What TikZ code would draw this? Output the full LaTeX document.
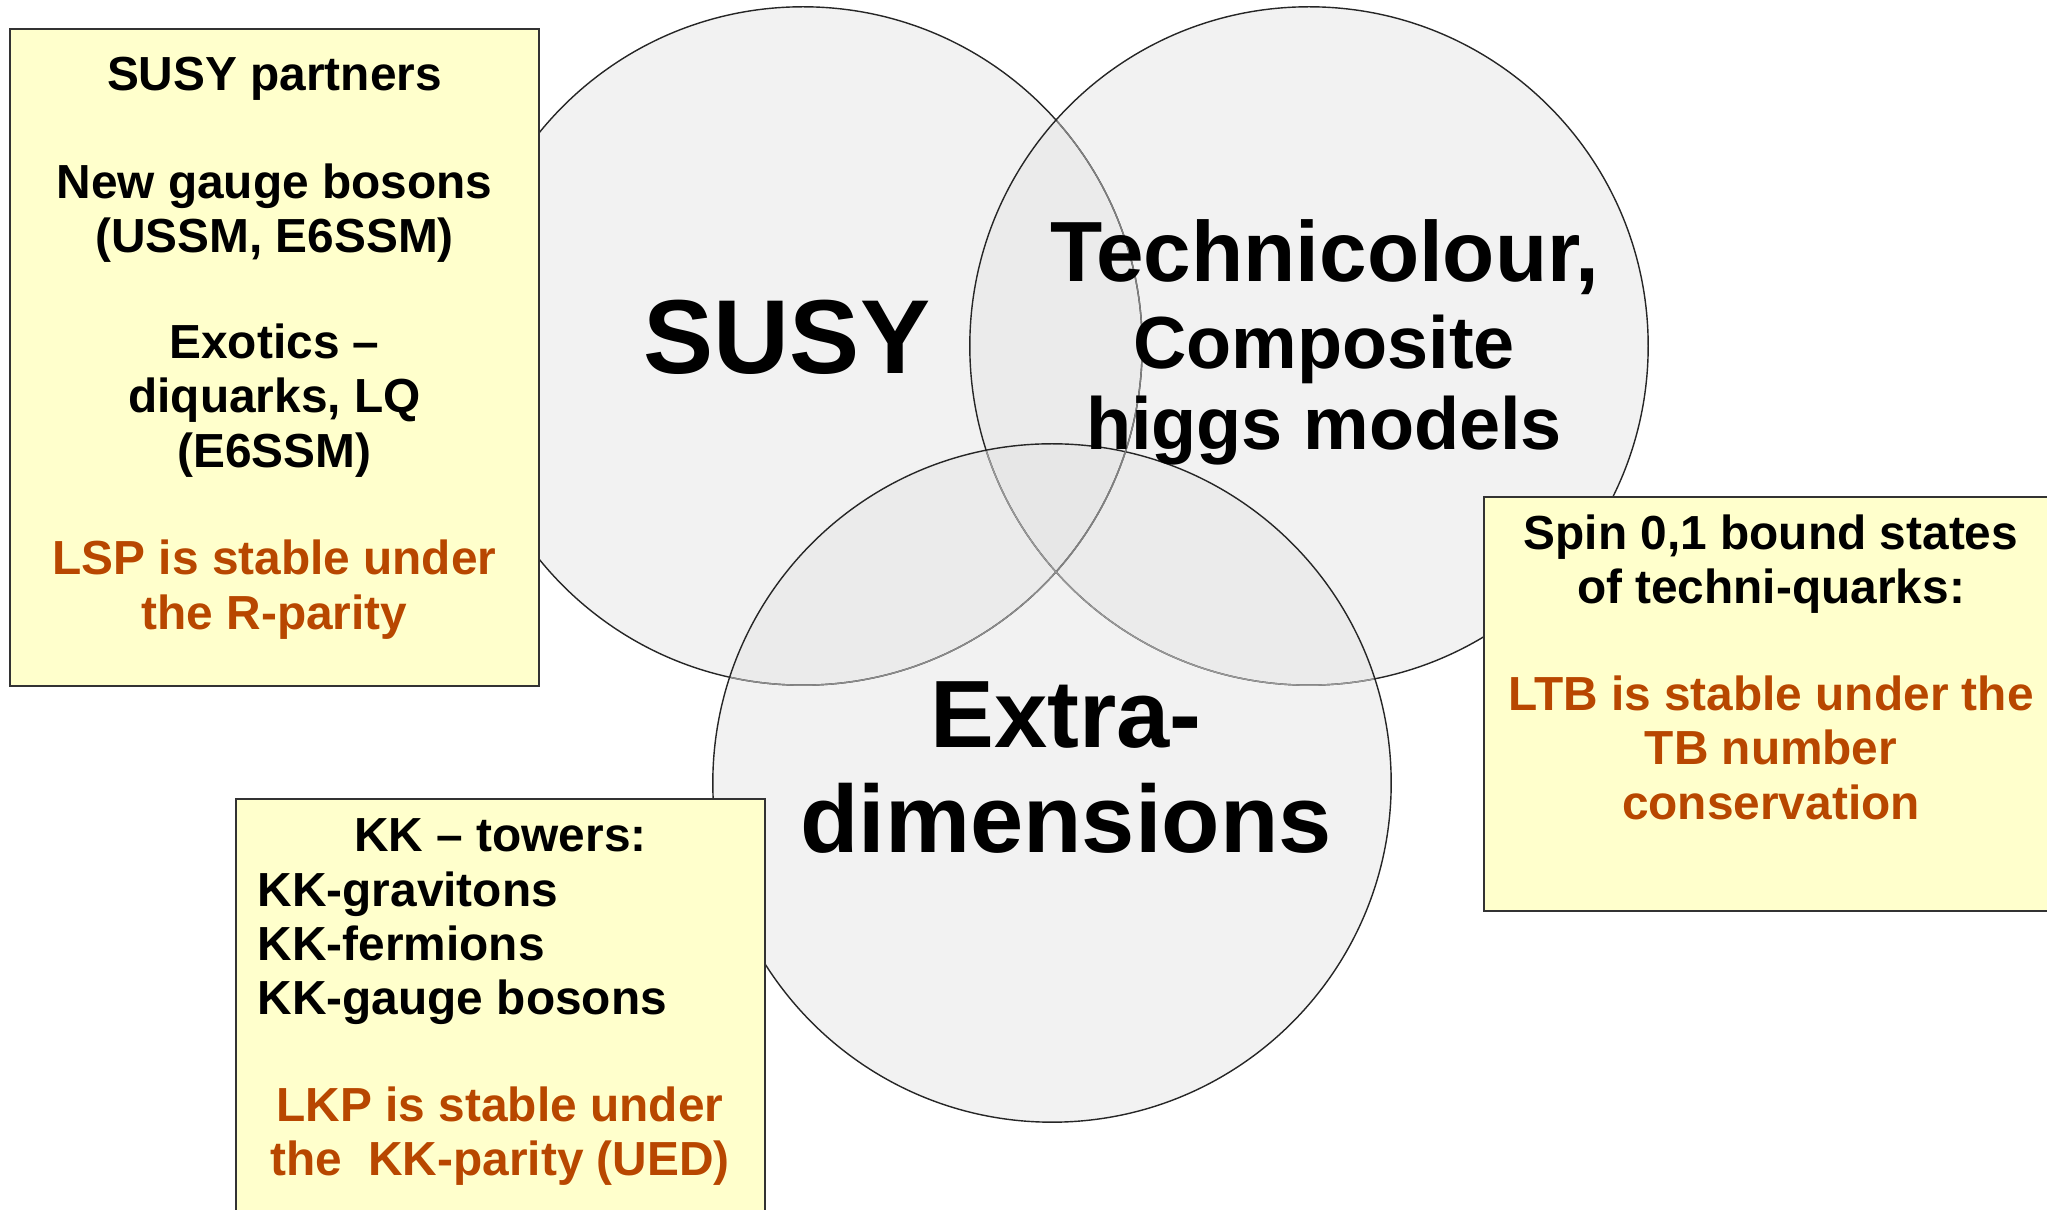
\documentclass[tikz,border=0pt]{standalone}
\usepackage{fontspec}
\setmainfont{Liberation Sans}
\usetikzlibrary{positioning, fit}
\definecolor{noteFill}{HTML}{FFFFCC}
\definecolor{stableText}{HTML}{B84700}
\definecolor{oneFill}{HTML}{F2F2F2}
\definecolor{twoFill}{HTML}{EBEBEB}
\definecolor{threeFill}{HTML}{E7E7E7}

\begin{document}
\begin{tikzpicture}[
    x=0.01cm, y=-0.01cm,
    theory/.style={
      circle, draw=black!85, line width=0.4pt, fill=oneFill,
      minimum size=6.78cm, inner sep=0pt
    },
    infobox/.style={rectangle, draw=black!80, line width=0.4pt, fill=noteFill, inner sep=0pt},
    boxtext/.style={font=\fontsize{13.6}{15.4}\selectfont\bfseries, align=center, inner sep=0pt, anchor=north},
    biglabel/.style={font=\bfseries, align=center, inner sep=0pt},
  ]
  \useasboundingbox (0,0) rectangle (2047,1210);

  %% -- the three theory circles --
  \node[theory, draw=none] (susyC)   at (803,346)  {};
  \node[theory, draw=none] (techniC) at (1309,346) {};
  \node[theory, draw=none] (extraC)  at (1052,783) {};

  %% -- overlaps --
  \begin{scope}
    \clip (susyC.center) circle (3.39cm);
    \fill[twoFill] (techniC.center) circle (3.39cm);
    \fill[twoFill] (extraC.center) circle (3.39cm);
  \end{scope}
  \begin{scope}
    \clip (techniC.center) circle (3.39cm);
    \fill[twoFill] (extraC.center) circle (3.39cm);
  \end{scope}
  \begin{scope}
    \clip (susyC.center) circle (3.39cm);
    \clip (techniC.center) circle (3.39cm);
    \fill[threeFill] (extraC.center) circle (3.39cm);
  \end{scope}

  %% -- outlines, earlier ones fainter where covered --
  \foreach \c in {susyC, techniC, extraC}
    \draw[black!85, line width=0.4pt] (\c.center) circle (3.39cm);
  \begin{scope}
    \clip (extraC.center) circle (3.38cm);
    \draw[black!45, line width=0.4pt] (susyC.center) circle (3.39cm);
    \draw[black!40, line width=0.4pt] (techniC.center) circle (3.39cm);
  \end{scope}
  \begin{scope}
    \clip (techniC.center) circle (3.38cm);
    \draw[black!50, line width=0.4pt] (susyC.center) circle (3.39cm);
  \end{scope}

  %% -- note boxes --
  \node[infobox, fit={(10,29) (539,686)}]      (susybox) {};
  \node[infobox, fit={(1484,497) (2058,911)}]  (techbox) {};
  \node[infobox, fit={(236,799) (765,1215)}]   (kkbox)   {};

  %% -- box texts --
  \node[boxtext, below=0.28cm of susybox.north] (susytext)
    {SUSY partners\\[15.3pt]
     New gauge bosons\\ (USSM, E6SSM)\\[14.8pt]
     Exotics --\\ diquarks, LQ\\ (E6SSM)\\[15.3pt]
     \textcolor{stableText}{LSP is stable under}\\
     \textcolor{stableText}{the R-parity}};
  \node[boxtext, below=0.18cm of techbox.north] (techtext)
    {Spin 0,1 bound states\\ of techni-quarks:\\[15pt]
     \textcolor{stableText}{LTB is stable under the}\\
     \textcolor{stableText}{TB number}\\
     \textcolor{stableText}{conservation}};
  \node[boxtext, below=0.20cm of kkbox.north] (kktitle) {KK -- towers:};
  \node[boxtext, align=left, anchor=north west] (kklist) at (257,871)
    {KK-gravitons\\ KK-fermions\\ KK-gauge bosons};
  \node[boxtext, text=stableText] (kknote) at (500,1086)
    {LKP is stable under\\ the\ \ KK-parity (UED)};

  %% -- circle labels --
  \node[biglabel, font=\fontsize{29.9}{33}\selectfont\bfseries] (susy) at (787,337) {SUSY};
  \node[biglabel, font=\fontsize{24.3}{26}\selectfont\bfseries] (techni) at (1325,257) {Technicolour,};
  \node[biglabel, anchor=north, font=\fontsize{21}{23}\selectfont\bfseries] (composite) at (1324,314)
    {Composite\\ higgs models};
  \node[biglabel, anchor=north, font=\fontsize{27.2}{29.9}\selectfont\bfseries] (extra) at (1066,681)
    {Extra-\\ dimensions};

\end{tikzpicture}
\end{document}
